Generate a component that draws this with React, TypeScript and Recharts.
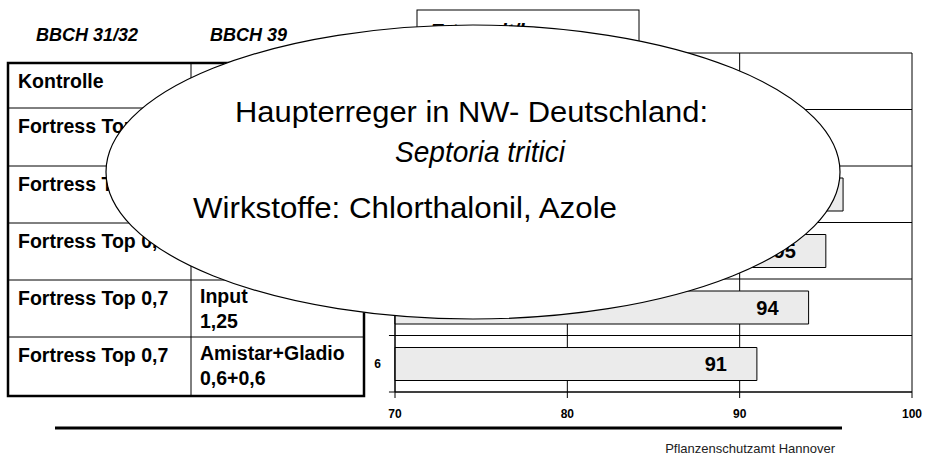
import { BarChart, Bar, XAxis, YAxis, CartesianGrid, ReferenceLine, LabelList } from "recharts";

// Ertrag dt/ha per Variante (rows 1-6, 1 = Kontrolle at top)
const rows = [1, 2, 3, 4, 5, 6];
const yields = [85, 93, 96, 95, 94, 91];
const xTicks = [70, 80, 90, 100];
const rowBounds = [0.5, 1.5, 2.5, 3.5, 4.5, 5.5, 6.5];

// table texts (BBCH 31/32 | BBCH 39)
const t1Lines = [["Kontrolle"], ["Fortress Top 0,7"], ["Fortress Top 0,7"], ["Fortress Top 0,7"], ["Fortress Top 0,7"], ["Fortress Top 0,7"]];
const t2Lines = [[], [], [], [], ["Input", "1,25"], ["Amistar+Gladio", "0,6+0,6"]];

const FONT = '"Liberation Sans", Arial, Helvetica, sans-serif';

const data = rows.map((r, i) => ({ row: r, yield: yields[i] }));

// table row edges on the page
const rowTops = [63, 108, 166, 223, 280, 337, 396];

export default function App() {
  return (
    <div style={{ position: "absolute", left: 0, top: 0, width: 927, height: 458, background: "#fff", fontFamily: FONT }}>
      {/* table and headers behind the chart */}
      <svg width={927} height={458} style={{ position: "absolute", left: 0, top: 0 }}>
        <g fontFamily={FONT} fontWeight="bold" fontStyle="italic" fontSize={18} fill="#000">
          <text x={36} y={41}>BBCH 31/32</text>
          <text x={210} y={41}>BBCH 39</text>
        </g>
        <rect x={417} y={10} width={222} height={40} fill="#fff" stroke="#000" strokeWidth={1} />
        <text x={430} y={38} fontFamily={FONT} fontWeight="bold" fontStyle="italic" fontSize={20}>Ertrag dt/ha</text>

        {rowTops.slice(1, 6).map((y) => (
          <line key={y} x1={8} x2={364} y1={y} y2={y} stroke="#000" strokeWidth={1} />
        ))}
        <line x1={191} x2={191} y1={63} y2={396} stroke="#000" strokeWidth={1} />
        <rect x={8} y={63} width={356} height={333} fill="none" stroke="#000" strokeWidth={2.5} />
        <g fontFamily={FONT} fontWeight="bold" fontSize={19.5} fill="#000">
          {t1Lines.map((lines, i) =>
            lines.map((s, j) => (
              <text key={`a${i}${j}`} x={18} y={rowTops[i] + 25 + j * 25}>{s}</text>
            ))
          )}
          {t2Lines.map((lines, i) =>
            lines.map((s, j) => (
              <text key={`b${i}${j}`} x={200} y={rowTops[i] + 23 + j * 25}>{s}</text>
            ))
          )}
        </g>
      </svg>

      <div style={{ position: "absolute", left: 0, top: 0 }}>
        <BarChart
          width={927}
          height={458}
          data={data}
          layout="vertical"
          margin={{ top: 53, right: 15, bottom: 36, left: 365 }}
        >
          <CartesianGrid horizontal={false} stroke="#000" strokeOpacity={1} />
          <XAxis
            type="number"
            domain={[70, 100]}
            ticks={xTicks}
            height={30}
            tickSize={6}
            tickMargin={11}
            axisLine={{ stroke: "#000" }}
            tickLine={{ stroke: "#000" }}
            tick={{ fontSize: 12, fontWeight: "bold", fill: "#000", fontFamily: FONT }}
          />
          <YAxis
            type="number"
            dataKey="row"
            domain={[0.5, 6.5]}
            ticks={rows}
            width={30}
            tickLine={false}
            tickSize={6}
            tickMargin={8}
            axisLine={{ stroke: "#000" }}
            tick={{ fontSize: 12, fontWeight: "bold", fill: "#000", fontFamily: FONT }}
          />
          {rowBounds.map((b) => (
            <ReferenceLine
              key={b}
              ifOverflow="visible"
              segment={[{ x: 69.65, y: b }, { x: 100, y: b }]}
              stroke="#000"
              strokeWidth={1}
            />
          ))}
          <Bar dataKey="yield" fill="#ebebeb" stroke="#000" strokeWidth={1} barSize={33} isAnimationActive={false}>
            <LabelList
              dataKey="yield"
              position="insideRight"
              offset={30}
              style={{ fontSize: 20, fontWeight: "bold", fill: "#000", fontFamily: FONT }}
            />
          </Bar>
        </BarChart>
      </div>

      {/* overlay ellipse */}
      <svg width={927} height={458} style={{ position: "absolute", left: 0, top: 0 }}>
        <ellipse cx={473} cy={172} rx={367} ry={147} fill="#fff" stroke="#000" strokeWidth={1.2} />
        <g fontFamily={FONT} fontSize={29} fill="#000">
          <text x={235} y={122} textLength={473} lengthAdjust="spacingAndGlyphs">Haupterreger in NW- Deutschland:</text>
          <text x={395} y={162} fontStyle="italic" textLength={170} lengthAdjust="spacingAndGlyphs">Septoria tritici</text>
          <text x={193} y={218} textLength={424} lengthAdjust="spacingAndGlyphs">Wirkstoffe: Chlorthalonil, Azole</text>
        </g>
        <line x1={55} x2={842} y1={428} y2={428} stroke="#000" strokeWidth={3} />
        <text x={835} y={453} textAnchor="end" fontFamily={FONT} fontSize={13} fill="#222">Pflanzenschutzamt Hannover</text>
      </svg>
    </div>
  );
}
